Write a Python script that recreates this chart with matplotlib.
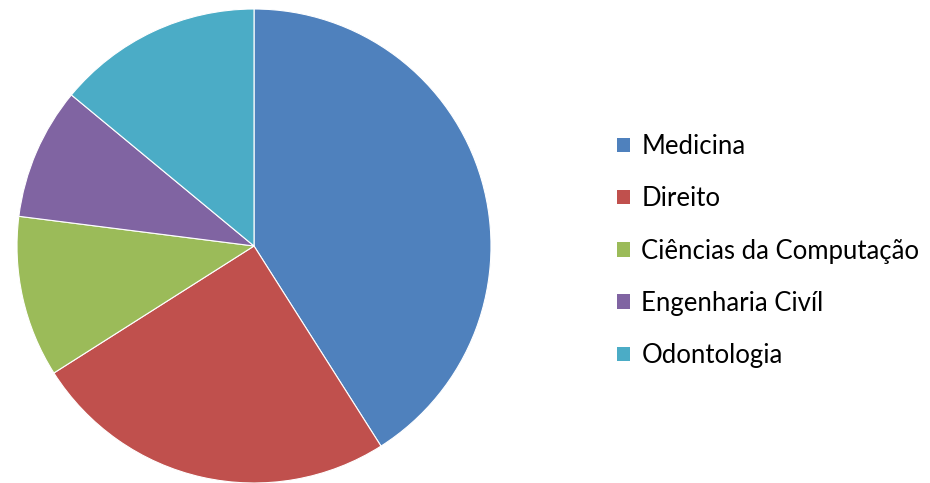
import matplotlib
matplotlib.use("Agg")
import matplotlib.pyplot as plt
from matplotlib.patches import Rectangle

# course share (percent)
courses = ["Medicina", "Direito", "Ciências da Computação", "Engenharia Civíl", "Odontologia"]
shares = [41, 25, 11, 9, 14]
colors = ["#4F81BD", "#C0504D", "#9BBB59", "#8064A2", "#4BACC6"]

W, H = 930, 483
fig = plt.figure(figsize=(W / 100, H / 100), dpi=100)

# pie centre ~ (254, 246) px, radius ~237 px
cx, cy, r = 254, 246, 237
ax = fig.add_axes([(cx - r) / W, (H - cy - r) / H, 2 * r / W, 2 * r / H])
ax.pie(shares, colors=colors, startangle=90, counterclock=False,
       wedgeprops=dict(edgecolor="white", linewidth=0.8))
ax.set_xlim(-1, 1)
ax.set_ylim(-1, 1)
ax.set_aspect("equal")
ax.axis("off")

handles = [Rectangle((0, 0), 1, 1, facecolor=c, edgecolor="none") for c in colors]
fig.legend(handles, courses, loc="center left", bbox_to_anchor=(617 / W, 1 - 251 / H),
           frameon=False, prop=dict(family="Lato", size=18.5),
           handlelength=0.5, handleheight=0.5, handletextpad=0.45,
           labelspacing=1.06, borderpad=0, borderaxespad=0)

fig.savefig("out.png", dpi=100)
